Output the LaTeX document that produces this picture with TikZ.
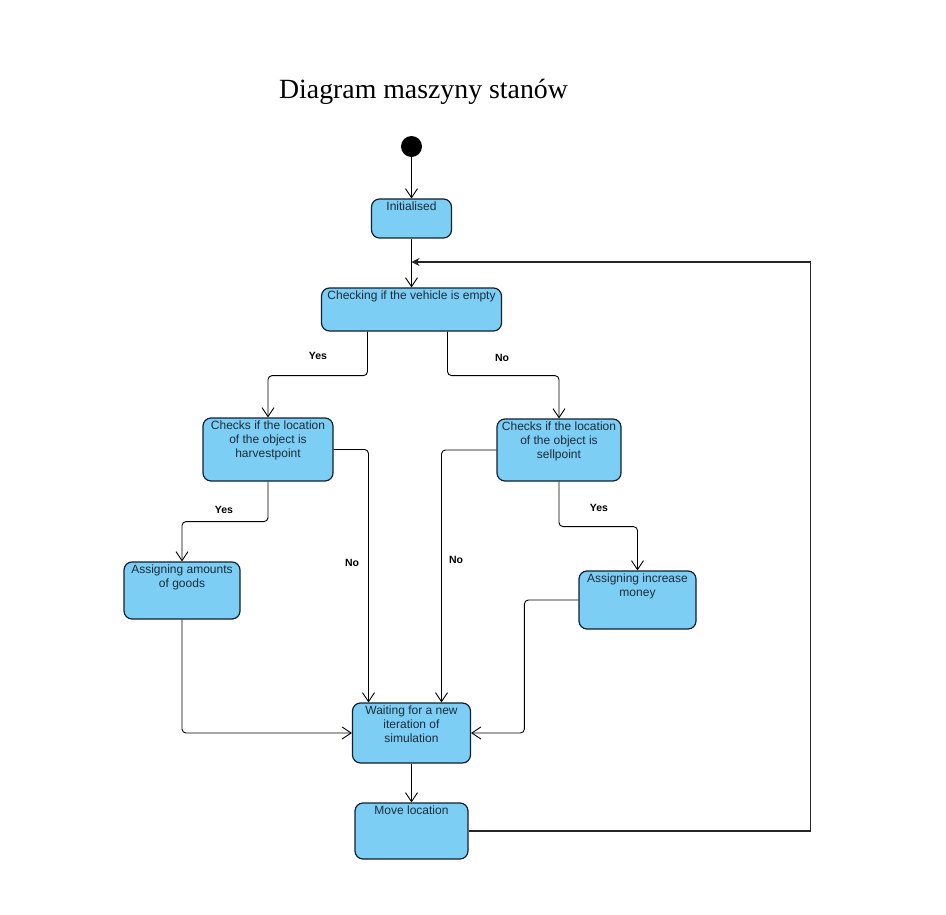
\documentclass[tikz,border=0pt]{standalone}
\usepackage{fontspec}
\setmainfont{Liberation Sans}
\newfontfamily\titlefont{Liberation Serif}
\usepackage{xcolor}
\usetikzlibrary{arrows.meta}
\definecolor{statefill}{HTML}{7DCEF4}
\definecolor{stateline}{HTML}{102030}
\definecolor{statetext}{HTML}{1B2B3A}

\begin{document}
\begin{tikzpicture}[x=1pt,y=-1pt,
	state/.style={draw=stateline, fill=statefill, line width=1.2pt, rounded corners=8pt, inner sep=0pt},
	stext/.style={anchor=north, inner sep=0pt, yshift=-3pt, align=center, text=statetext, font=\fontsize{12}{14}\selectfont},
	flow/.style={draw=black, line width=0.9pt, rounded corners=4pt, -{Straight Barb[length=9pt,width=12pt]}},
	back/.style={draw=black!85, line width=1.1pt, -{Stealth[length=8pt,width=8pt,inset=2.5pt]}},
	guard/.style={font=\bfseries\fontsize{10.5}{12}\selectfont}]
				\useasboundingbox (0,0) rectangle (946,915);
				\node [anchor=base, font=\titlefont\fontsize{27.8}{30}\selectfont] (title) at (423.5,99) {Diagram maszyny stanów};
				% states
				\node [circle, fill=black, minimum size=21pt, inner sep=0pt] (start) at (411.5,146.5) {};
				\node [state, minimum width=80pt, minimum height=39pt, label={[stext]north:Initialised}] (init) at (411.5,218.5) {};
				\node [state, minimum width=180pt, minimum height=43pt, label={[stext]north:Checking if the vehicle is empty}] (check) at (411.5,309.5) {};
				\node [state, minimum width=130pt, minimum height=63pt, label={[stext]north:Checks if the location\\of the object is\\harvestpoint}] (harv) at (268,449.5) {};
				\node [state, minimum width=124pt, minimum height=62pt, label={[stext]north:Checks if the location\\of the object is\\sellpoint}] (sell) at (559,450) {};
				\node [state, minimum width=116pt, minimum height=57pt, label={[stext]north:Assigning amounts\\of goods}] (amount) at (182,590.5) {};
				\node [state, minimum width=117pt, minimum height=58pt, label={[stext]north:Assigning increase\\money}] (incr) at (637.5,600) {};
				\node [state, minimum width=118pt, minimum height=60pt, label={[stext]north:Waiting for a new\\iteration of\\simulation}] (wait) at (411.5,733) {};
				\node [state, minimum width=113pt, minimum height=56pt, label={[stext]north:Move location}] (move) at (411.5,831) {};
				\coordinate (join) at (411.5,262);
				% transitions
				\draw [flow] (start) -- (init);
				\draw [flow] (init) -- (check);
				\draw [back] (move.east) -- ++(342,0) |- (join);
				\draw [flow] ([xshift=-44pt]check.south) -- ++(0,44) -| (harv);
				\draw [flow] ([xshift=36pt]check.south) -- ++(0,44) -| (sell);
				\draw [flow] (harv.south) -- ++(0,40) -| (amount);
				\draw [flow] (harv.east) -| ([xshift=-43pt]wait.north);
				\draw [flow] (sell.west) -| ([xshift=30pt]wait.north);
				\draw [flow] (sell.south) -- ++(0,45) -| (incr);
				\draw [flow] (amount.south) |- (wait.west);
				\draw [flow] (incr.west) -- ++(-54,0) |- (wait.east);
				\draw [flow] (wait) -- (move);
				% guards
				\node [guard] (yescheck) at (318,356) {Yes};
				\node [guard] (nocheck) at (502,358) {No};
				\node [guard] (yesharv) at (224,510) {Yes};
				\node [guard] (noharv) at (352,563) {No};
				\node [guard] (nosell) at (456,560) {No};
				\node [guard] (yessell) at (599,508) {Yes};
\end{tikzpicture}
\end{document}
